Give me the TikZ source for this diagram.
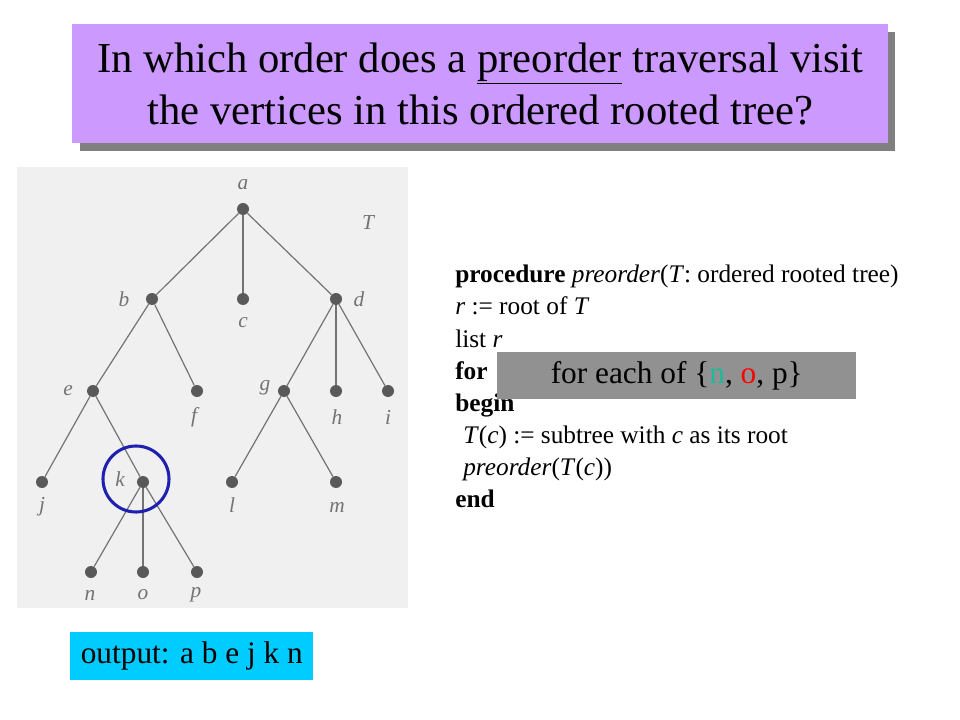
\documentclass[tikz,border=0pt]{standalone}
\usepackage{fontspec}
\setmainfont{Liberation Serif}
\begin{document}
\begin{tikzpicture}[x=0.75pt,y=-0.75pt,
  vtx/.style={circle,fill=black!65,inner sep=0pt,minimum size=9pt},
  lbl/.style={font=\fontsize{16}{16}\selectfont\itshape,text=black!55},
  edge/.style={draw=black!55,line width=0.9pt},
  code/.style={anchor=base west,font=\fontsize{19}{19}\selectfont,inner sep=0pt}]
\useasboundingbox (0,0) rectangle (960,720);
\fill[white] (0,0) rectangle (960,720);
% title
\fill[black!50] (80,32) rectangle (895,151);
\node[fill={rgb,255:red,204;green,153;blue,255},minimum width=816*0.75pt,minimum height=119*0.75pt,anchor=north west,inner sep=0pt,
  align=center,font=\fontsize{32}{39}\selectfont] (title) at (72,24)
  {In which order does a \underline{preorder} traversal visit\\the vertices in this ordered rooted tree?};
% tree background
\fill[black!6] (17,167) rectangle (408,608);
% vertices
\node[vtx] (a) at (243,209) {};
\node[vtx] (b) at (152,299) {};
\node[vtx] (c) at (243,299) {};
\node[vtx] (d) at (336,299) {};
\node[vtx] (e) at (93,391) {};
\node[vtx] (f) at (197,391) {};
\node[vtx] (g) at (284,391) {};
\node[vtx] (h) at (336,391) {};
\node[vtx] (i) at (388,391) {};
\node[vtx] (j) at (42,482) {};
\node[vtx] (k) at (143,482) {};
\node[vtx] (l) at (232,482) {};
\node[vtx] (m) at (336,482) {};
\node[vtx] (n) at (91,572) {};
\node[vtx] (o) at (143,572) {};
\node[vtx] (p) at (197,572) {};
\foreach \s/\t in {a/b,a/c,a/d,b/e,b/f,d/g,d/h,d/i,e/j,e/k,g/l,g/m,k/n,k/o,k/p}
  \draw[edge] (\s) -- (\t);
% labels
\node[lbl] (la) at (243,185) {a};
\node[lbl] (lT) at (368,223) {T};
\node[lbl] (lb) at (124,299) {b};
\node[lbl] (lc) at (243,323) {c};
\node[lbl] (ld) at (359,299) {d};
\node[lbl] (le) at (68,391) {e};
\node[lbl] (lf) at (194,417) {f};
\node[lbl] (lg) at (265,388) {g};
\node[lbl] (lh) at (337,417) {h};
\node[lbl] (li) at (388,417) {i};
\node[lbl] (lj) at (42,507) {j};
\node[lbl] (lk) at (120,479) {k};
\node[lbl] (ll) at (232,505) {l};
\node[lbl] (lm) at (337,507) {m};
\node[lbl] (ln) at (90,595) {n};
\node[lbl] (lo) at (143,595) {o};
\node[lbl] (lp) at (196,595) {p};
% highlight circle
\node[circle,draw={rgb,255:red,32;green,32;blue,176},line width=2.3pt,minimum size=66*0.75pt,inner sep=0pt] (hl) at (136,479) {};
% code
\node[code] (c1) at (455,283) {\textbf{procedure} \textit{preorder}(\textit{T}: ordered rooted tree)};
\node[code] (c2) at (455,315) {\textit{r} := root of \textit{T}};
\node[code] (c3) at (455,347) {list \textit{r}};
\node[code] (c4) at (455,379) {\textbf{for}};
\node[code] (c5) at (455,411) {\textbf{begin}};
\node[code] (c6) at (463,443) {\textit{T}(\textit{c}) := subtree with \textit{c} as its root};
\node[code] (c7) at (463,475) {\textit{preorder}(\textit{T}(\textit{c}))};
\node[code] (c8) at (455,507) {\textbf{end}};
% gray overlay box
\node[fill=black!43,minimum width=359*0.75pt,minimum height=47*0.75pt,anchor=north west,inner sep=0pt,
  font=\fontsize{23.5}{23.5}\selectfont] (fe) at (497,352)
  {for each of \{\textcolor[rgb]{0.13,0.72,0.6}{n}, \textcolor{red}{o}, p\}};
% output box
\node[fill={rgb,255:red,0;green,204;blue,255},minimum width=243*0.75pt,minimum height=48*0.75pt,anchor=north west,inner sep=0pt,
  font=\fontsize{23.5}{23.5}\selectfont] (out) at (70,632) {output: a b e j k n};
\end{tikzpicture}
\end{document}
